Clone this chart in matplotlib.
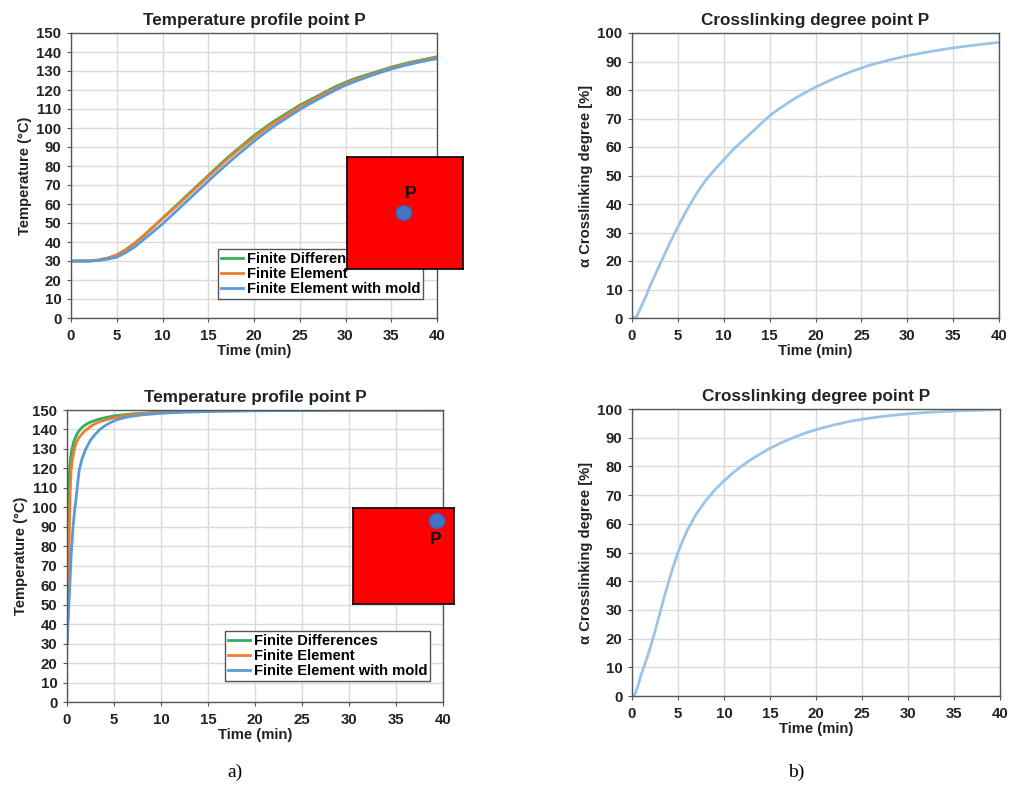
import matplotlib
matplotlib.use("Agg")
import matplotlib.pyplot as plt
from matplotlib.patches import Ellipse

plt.rcParams["font.family"] = ["Liberation Sans", "DejaVu Sans"]

# ── data ─────────────────────────────────────────────────────────────────────
# top-left: slow heating (one value per minute)
t_a = list(range(0, 41))
T_fd_a = [30, 30, 30, 30.5, 31.5, 33, 36, 39.5, 43.5, 48, 52.5, 57, 61.5, 66, 70.5, 75,
          79.5, 84, 88, 92, 96, 99.5, 103, 106, 109, 112, 114.5, 117, 119.5, 122, 124,
          126, 127.5, 129, 130.5, 132, 133.3, 134.5, 135.5, 136.5, 137.5]
T_fe_a = [30, 30, 30, 30.5, 31.5, 33.2, 36, 39.5, 43.7, 48, 52.3, 56.6, 61, 65.5, 70, 74.4,
          78.8, 83.2, 87.3, 91.2, 95, 98.7, 102.1, 105.2, 108.2, 111.1, 113.7, 116.3, 118.8,
          121.2, 123.3, 125.3, 127, 128.6, 130, 131.5, 132.9, 134.1, 135.2, 136.2, 137.1]
T_fm_a = [30, 30, 30, 30.3, 31, 32, 34.5, 37.5, 41.5, 45.5, 49.5, 54, 58.5, 63, 67.5, 72,
          76.5, 80.8, 85, 89, 93, 96.8, 100.3, 103.5, 106.6, 109.7, 112.5, 115.1, 117.7,
          120.2, 122.5, 124.4, 126.2, 127.9, 129.5, 131, 132.3, 133.5, 134.6, 135.6, 136.5]

# bottom-left: fast heating
t_fd_b = [0, 0.03, 0.06, 0.1, 0.14, 0.2, 0.28, 0.4, 0.53, 0.7, 0.9, 1.1, 1.4, 1.7, 2, 2.5,
          3.2, 4, 5, 7, 10, 15, 20, 30, 40]
T_fd_b = [30, 45, 65, 85, 100, 112, 120, 126, 130, 133.5, 136, 138, 140, 141.5, 142.5, 143.8,
          145, 146, 147, 148, 149, 149.6, 149.9, 150, 150]
t_fe_b = [0, 0.1, 0.15, 0.2, 0.25, 0.3, 0.35, 0.42, 0.55, 0.78, 1, 1.3, 1.7, 2.1, 2.5, 3,
          3.5, 4.2, 5, 6, 8, 10, 15, 20, 30, 40]
T_fe_b = [30, 45, 58, 72, 88, 100, 110, 118, 124, 130, 133.5, 136, 138.3, 140, 141.5, 143,
          144, 145, 146, 147, 148.2, 148.8, 149.5, 149.8, 150, 150]
t_fm_b = [0, 0.1, 0.2, 0.3, 0.45, 0.64, 0.8, 1, 1.15, 1.3, 1.6, 2, 2.5, 3, 3.5, 4, 4.6, 5.3,
          6.5, 8, 10, 12, 15, 20, 30, 40]
T_fm_b = [30, 40, 50, 60, 76, 90, 98, 106, 113, 119, 125, 130, 134.5, 137.5, 140, 141.8,
          143.5, 145, 146.5, 147.5, 148.3, 148.8, 149.2, 149.6, 149.9, 150]

# crosslinking degree
t_cl_a = [0, 0.5, 1, 1.5, 2, 3, 4, 5, 6, 7, 8, 9, 10, 11, 12, 13, 14, 15, 16, 17, 18, 19,
          20, 22, 24, 26, 28, 30, 32, 34, 36, 38, 40]
a_cl_a = [0, 0.5, 4, 7.5, 11.5, 18.5, 25.5, 32, 38, 43.5, 48.2, 52, 55.5, 59, 62, 65, 68,
          71, 73.3, 75.5, 77.5, 79.3, 81, 84, 86.6, 88.8, 90.5, 92, 93.2, 94.3, 95.2, 96, 96.7]
t_cl_b = [0, 0.3, 0.6, 1, 1.5, 2, 2.5, 3, 3.5, 4, 4.5, 5, 5.5, 6, 7, 8, 9, 10, 11, 12, 13,
          14, 15, 16, 17, 18, 19, 20, 22, 24, 26, 28, 30, 32, 35, 40]
a_cl_b = [0, 0.5, 3, 7.5, 12, 17, 22.5, 28.5, 34.5, 40, 45.3, 50, 54, 57.7, 63.5, 68, 71.8,
          75, 77.8, 80.3, 82.5, 84.5, 86.3, 87.9, 89.3, 90.6, 91.8, 92.8, 94.5, 95.9, 96.9,
          97.7, 98.3, 98.8, 99.3, 99.8]

labels = ["Finite Differences", "Finite Element", "Finite Element with mold"]
colors = ["#2fb05a", "#ed7d31", "#5b9bd5"]
cl_color = "#9dc3e6"

W, H = 1015, 785
fig = plt.figure(figsize=(W / 100, H / 100), dpi=100)


def px_axes(x0, y0, x1, y1):
    return fig.add_axes([x0 / W, 1 - y1 / H, (x1 - x0) / W, (y1 - y0) / H])


def style(ax, ymax, ylabel, title):
    ax.set_xlim(0, 40)
    ax.set_ylim(0, ymax)
    ax.set_xticks(range(0, 41, 5))
    ax.set_yticks(range(0, ymax + 1, 10))
    ax.grid(True, color="#dadada", lw=1.0)
    ax.set_axisbelow(True)
    for s in ax.spines.values():
        s.set_color("#555555")
        s.set_linewidth(1.0)
    ax.tick_params(labelsize=10.8, length=3, color="#555555")
    ax.tick_params(axis="x", pad=5)
    ax.tick_params(axis="y", pad=4)
    for lab in ax.get_xticklabels() + ax.get_yticklabels():
        lab.set_fontweight("bold")
        lab.set_color("#222222")
    ax.set_xlabel("Time (min)", fontsize=10.7, fontweight="bold", labelpad=1, color="#222222")
    ax.set_ylabel(ylabel, fontsize=10.6, fontweight="bold", labelpad=3, color="#222222")
    ax.set_title(title, fontsize=12.3, fontweight="bold", pad=6, color="#222222")


def legend(ax, loc_px):
    x0, y0 = loc_px
    pos = ax.get_position()
    bx = (x0 / W - pos.x0) / pos.width
    by = ((1 - y0 / H) - pos.y0) / pos.height
    leg = ax.legend(loc="upper left", bbox_to_anchor=(bx, by), frameon=True,
                    fancybox=False, edgecolor="#555555", framealpha=1,
                    prop={"weight": "bold", "size": 10.6}, handlelength=1.5,
                    handletextpad=0.25, labelspacing=0.08, borderpad=0.2,
                    borderaxespad=0)
    leg.get_frame().set_linewidth(1.0)
    return leg


def inset_box(x0, y0, x1, y1, dot, ptxt):
    ia = px_axes(x0, y0, x1, y1)
    ia.set_facecolor("#ff0000")
    ia.set_xlim(x0, x1)
    ia.set_ylim(y1, y0)
    ia.set_xticks([])
    ia.set_yticks([])
    for s in ia.spines.values():
        s.set_color("black")
        s.set_linewidth(1.2)
    ia.add_patch(Ellipse(dot, 16, 15, facecolor="#4472c4", edgecolor="#3a5fa8", lw=0.8))
    ia.text(ptxt[0], ptxt[1], "P", ha="center", va="center", fontsize=12.5,
            fontweight="bold", color="#111111")
    ia.set_zorder(10)


# top-left
ax1 = px_axes(71, 33, 437, 318)
for T, c, l in zip([T_fd_a, T_fe_a, T_fm_a], colors, labels):
    ax1.plot(t_a, T, color=c, lw=2, label=l)
style(ax1, 150, "Temperature (°C)", "Temperature profile point P")
legend(ax1, (218, 249))
inset_box(347, 157, 463, 269, (404, 213), (411, 193))

# bottom-left
ax2 = px_axes(67, 410, 443, 702)
for t, T, c, l in zip([t_fd_b, t_fe_b, t_fm_b], [T_fd_b, T_fe_b, T_fm_b], colors, labels):
    ax2.plot(t, T, color=c, lw=2, label=l)
style(ax2, 150, "Temperature (°C)", "Temperature profile point P")
legend(ax2, (225, 631))
inset_box(353, 508, 454, 604, (437, 521), (436, 540))

# top-right
ax3 = px_axes(632, 33, 999, 318)
ax3.plot(t_cl_a, a_cl_a, color=cl_color, lw=2)
style(ax3, 100, "α Crosslinking degree [%]", "Crosslinking degree point P")

# bottom-right
ax4 = px_axes(632, 409, 1000, 696)
ax4.plot(t_cl_b, a_cl_b, color=cl_color, lw=2)
style(ax4, 100, "α Crosslinking degree [%]", "Crosslinking degree point P")

fig.text(235 / W, 1 - 772 / H, "a)", fontsize=14, family="Liberation Serif", ha="center", va="center")
fig.text(796 / W, 1 - 772 / H, "b)", fontsize=14, family="Liberation Serif", ha="center", va="center")

fig.savefig("out.png", dpi=100, facecolor="white")
